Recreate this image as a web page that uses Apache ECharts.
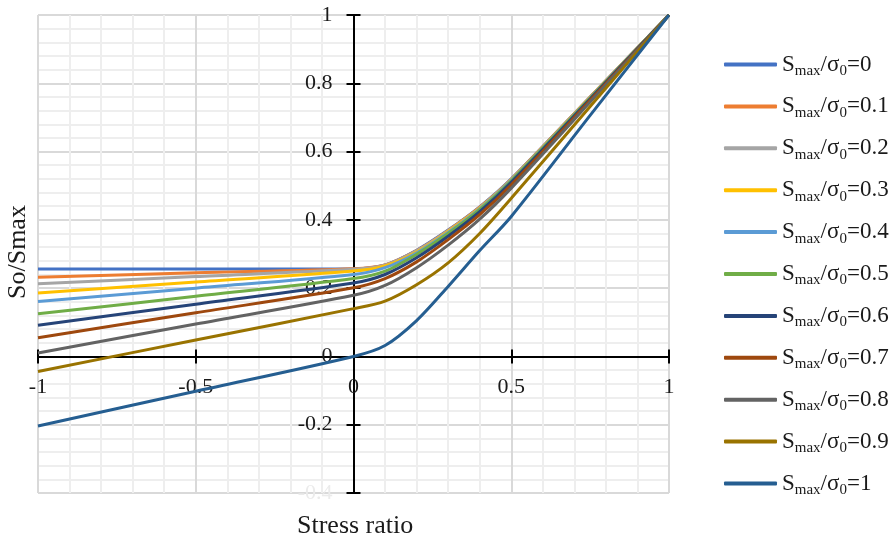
<!DOCTYPE html>
<html>
<head>
<meta charset="utf-8">
<script src="https://cdn.jsdelivr.net/npm/echarts@6/dist/echarts.min.js"></script>
<style>
  html, body { margin: 0; padding: 0; background: #fff; }
  #chart { width: 893px; height: 541px; }
</style>
</head>
<body>
<div id="chart"></div>
<script>
// stress ratio points
const stressRatio = [-1, -0.5, 0, 0.1, 0.2, 0.3, 0.4, 0.5, 0.75, 1];

// So/Smax for each Smax/sigma0
const s00 = [0.256, 0.256, 0.257, 0.268, 0.311, 0.370, 0.438, 0.520, 0.760, 1];
const s01 = [0.232, 0.245, 0.257, 0.268, 0.310, 0.369, 0.437, 0.519, 0.760, 1];
const s02 = [0.213, 0.234, 0.255, 0.267, 0.309, 0.368, 0.436, 0.518, 0.759, 1];
const s03 = [0.186, 0.218, 0.250, 0.265, 0.306, 0.366, 0.434, 0.517, 0.758, 1];
const s04 = [0.161, 0.200, 0.240, 0.260, 0.303, 0.363, 0.432, 0.516, 0.757, 1];
const s05 = [0.125, 0.176, 0.228, 0.250, 0.299, 0.360, 0.430, 0.514, 0.756, 1];
const s06 = [0.091, 0.153, 0.215, 0.240, 0.289, 0.352, 0.424, 0.510, 0.754, 1];
const s07 = [0.055, 0.128, 0.201, 0.228, 0.277, 0.342, 0.415, 0.503, 0.750, 1];
const s08 = [0.010, 0.095, 0.179, 0.208, 0.260, 0.326, 0.402, 0.493, 0.745, 1];
const s09 = [-0.044, 0.048, 0.140, 0.162, 0.210, 0.274, 0.360, 0.463, 0.732, 1];
const s10 = [-0.204, -0.102, 0, 0.032, 0.105, 0.205, 0.310, 0.410, 0.706, 1];

const ratioLabels = ['0', '0.1', '0.2', '0.3', '0.4', '0.5', '0.6', '0.7', '0.8', '0.9', '1'];
const seriesValues = [s00, s01, s02, s03, s04, s05, s06, s07, s08, s09, s10];
const colors = ['#4472C4', '#ED7D31', '#A5A5A5', '#FFC000', '#5B9BD5', '#70AD47',
  '#264478', '#9E480E', '#636363', '#997300', '#255E91'];

const font = 'Liberation Serif';
const textColor = '#1a1a1a';
const majorGrid = '#d9d9d9';
const minorGrid = '#eeeeee';

// plot box in px; the axes cross at (0, 0) so they are shifted in with a negative offset
const plotLeft = 38, plotRight = 224, plotTop = 15, plotBottom = 48;
const plotW = 893 - plotLeft - plotRight, plotH = 541 - plotTop - plotBottom;
const xMin = -1, xMax = 1, yMin = -0.4, yMax = 1;
const yAxisShift = -plotW * (0 - xMin) / (xMax - xMin);
const xAxisShift = -plotH * (0 - yMin) / (yMax - yMin);

const chart = echarts.init(document.getElementById('chart'));

const tickStyle = { color: '#000', width: 2 };

const baseX = {
  type: 'value', min: xMin, max: xMax, interval: 0.5,
  position: 'bottom', offset: xAxisShift,
  axisLine: { onZero: false, lineStyle: { color: '#000', width: 2 } },
};
const baseY = {
  type: 'value', min: yMin, max: yMax, interval: 0.2,
  position: 'left', offset: yAxisShift,
  axisLine: { onZero: false, lineStyle: { color: '#000', width: 2 } },
};

const option = {
  animation: false,
  color: colors,
  grid: {
    left: plotLeft, right: plotRight, top: plotTop, bottom: plotBottom,
    containLabel: false, outerBoundsMode: 'none'
  },
  xAxis: [
    Object.assign({}, baseX, {
      axisTick: { show: true, length: 7, lineStyle: tickStyle },
      axisLabel: {
        fontFamily: font, fontSize: 22, color: textColor, margin: 20,
        formatter: v => String(v)
      },
      splitLine: { show: true, lineStyle: { color: majorGrid, width: 2 } },
      minorTick: { show: false, splitNumber: 5 },
      minorSplitLine: { show: true, lineStyle: { color: minorGrid, width: 2 } },
    }),
    Object.assign({}, baseX, {
      axisTick: { show: true, inside: true, length: 7, lineStyle: tickStyle },
      axisLabel: { show: false },
      splitLine: { show: false },
    })
  ],
  yAxis: [
    Object.assign({}, baseY, {
      axisTick: { show: true, length: 7, lineStyle: tickStyle },
      axisLabel: {
        fontFamily: font, fontSize: 22, margin: 21,
        color: v => (Math.abs(parseFloat(v) + 0.4) < 1e-6 ? '#ebebeb' : textColor),
        formatter: v => String(Math.round(v * 10) / 10)
      },
      splitLine: { show: true, lineStyle: { color: majorGrid, width: 2 } },
      minorTick: { show: false, splitNumber: 5 },
      minorSplitLine: { show: true, lineStyle: { color: minorGrid, width: 2 } },
    }),
    Object.assign({}, baseY, {
      axisTick: { show: true, inside: true, length: 7, lineStyle: tickStyle },
      axisLabel: { show: false },
      splitLine: { show: false },
    })
  ],
  graphic: [
    {
      type: 'text', left: 297, top: 513,
      style: { text: 'Stress ratio', fontFamily: font, fontSize: 26, fill: textColor }
    },
    {
      type: 'text', rotation: Math.PI / 2, x: 5, y: 299,
      style: { text: 'So/Smax', fontFamily: font, fontSize: 26, fill: textColor }
    }
  ],
  legend: {
    orient: 'vertical',
    left: 719,
    top: 48,
    itemWidth: 53,
    itemHeight: 4,
    itemGap: 16.4,
    itemTextGap: 5,
    icon: 'roundRect',
    formatter: n => '{m|S}{sub|max}{m|/σ}{sub|0}{m|=' + n + '}',
    textStyle: {
      rich: {
        m: { fontFamily: font, fontSize: 23, color: textColor, lineHeight: 28 },
        sub: { fontFamily: font, fontSize: 15, color: textColor, lineHeight: 17, verticalAlign: 'bottom' }
      }
    },
    data: ratioLabels
  },
  series: seriesValues.map((vals, i) => ({
    name: ratioLabels[i],
    type: 'line',
    xAxisIndex: 0,
    yAxisIndex: 0,
    data: stressRatio.map((x, j) => [x, vals[j]]),
    symbol: 'none',
    smooth: 0.3,
    lineStyle: { width: 3, color: colors[i] },
    z: 3 + i
  }))
};

chart.setOption(option);
</script>
</body>
</html>
